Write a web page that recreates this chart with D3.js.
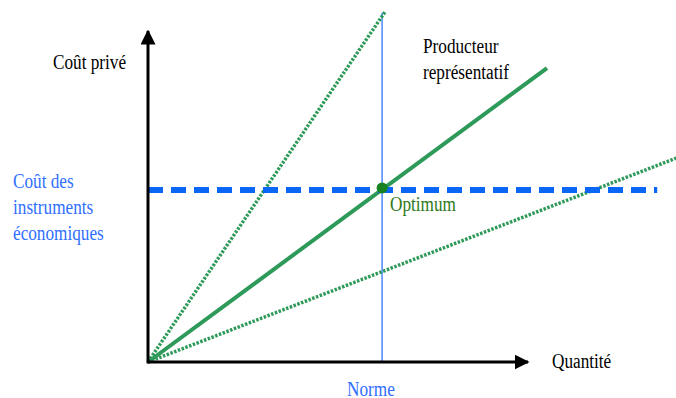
<!DOCTYPE html>
<html><head><meta charset="utf-8"><script src="https://cdn.jsdelivr.net/npm/d3@7"></script>
<style>
  body { margin: 0; }
  #wrap { position: relative; width: 676px; height: 398px; }
  .lbl { position: absolute; font-family: "Liberation Serif", "Times New Roman", serif; font-size: 20px; line-height: 26px; white-space: nowrap; transform-origin: 0 0; }
</style>
</head>
<body>
<div id="wrap"><svg id="chart" width="676" height="398"></svg></div>
<script>
// axes domains (abstract units)
const quantityDomain = [0, 100];
const costDomain = [0, 100];

// three producer cost lines: end points [quantity, cost], start at origin
const lineNames = ["pentuForte", "representatif", "pentuFaible"];
const lineEndQ = [62.5, 105, 139];
const lineEndC = [106, 88.8, 61.6];
const lineDotted = [true, false, true];

// instrument cost level and norm
const instrumentCost = 52;
const instrumentEndQ = 134;
const normeQ = 61.6;
const normeTopC = 105.5;

const originX = 148, originY = 362;

const x = d3.scaleLinear().domain(quantityDomain).range([originX, 528]);
const y = d3.scaleLinear().domain(costDomain).range([originY, 31]);

const svg = d3.select("#chart");

const defs = svg.append("defs");
defs.append("marker")
    .attr("id", "arrow")
    .attr("viewBox", "0 0 10 10")
    .attr("refX", 9)
    .attr("refY", 5)
    .attr("markerWidth", 5)
    .attr("markerHeight", 5)
    .attr("markerUnits", "strokeWidth")
    .attr("orient", "auto")
    .append("path")
    .attr("d", "M0,0 L10,5 L0,10 z")
    .attr("fill", "#000");

const green = "#2e9a5a";

// norme vertical line
svg.append("line")
    .attr("x1", x(normeQ)).attr("x2", x(normeQ))
    .attr("y1", y(0)).attr("y2", y(normeTopC))
    .attr("stroke", "#2f74ff")
    .attr("stroke-width", 1.3);

// producer lines
svg.append("g")
    .selectAll("line")
    .data(lineNames)
    .join("line")
    .attr("x1", x(0))
    .attr("y1", y(0))
    .attr("x2", (d, i) => x(lineEndQ[i]))
    .attr("y2", (d, i) => y(lineEndC[i]))
    .attr("stroke", green)
    .attr("stroke-width", (d, i) => lineDotted[i] ? 3.5 : 4)
    .attr("stroke-dasharray", (d, i) => lineDotted[i] ? "2.5,1.5" : null);

// instrument cost dashed line
svg.append("line")
    .attr("x1", x(0)).attr("x2", x(instrumentEndQ))
    .attr("y1", y(instrumentCost)).attr("y2", y(instrumentCost))
    .attr("stroke", "#0a66f5")
    .attr("stroke-width", 6)
    .attr("stroke-dasharray", "15,8");

// axes
svg.append("line")
    .attr("x1", x(0)).attr("y1", y(0))
    .attr("x2", x(100)).attr("y2", y(0))
    .attr("stroke", "#000").attr("stroke-width", 3)
    .attr("marker-end", "url(#arrow)");
svg.append("line")
    .attr("x1", x(0)).attr("y1", y(0) + 1.5)
    .attr("x2", x(0)).attr("y2", y(100))
    .attr("stroke", "#000").attr("stroke-width", 3)
    .attr("marker-end", "url(#arrow)");

// optimum point
svg.append("circle")
    .attr("cx", x(normeQ))
    .attr("cy", y(instrumentCost) - 2)
    .attr("r", 5.5)
    .attr("fill", "#17801f");

// labels as html, squeezed horizontally like the source picture
const wrap = d3.select("#wrap");
function label(px, top, color, lines, squeeze) {
    const div = wrap.append("div")
        .attr("class", "lbl")
        .style("left", px + "px")
        .style("top", top + "px")
        .style("color", color)
        .style("transform", `scaleX(${squeeze})`);
    lines.forEach((s, i) => {
        if (i) div.append("br");
        div.append("span").text(s);
    });
}

label(53, 49, "#000", ["Coût privé"], 0.86);
label(552, 348, "#000", ["Quantité"], 0.86);
label(347, 376, "#2f6fff", ["Norme"], 0.86);
label(390, 191, "#2d7a1a", ["Optimum"], 0.86);
label(423, 33, "#000", ["Producteur", "représentatif"], 0.86);
label(13, 168, "#2f6fff", ["Coût des", "instruments", "économiques"], 0.86);
</script></body></html>
